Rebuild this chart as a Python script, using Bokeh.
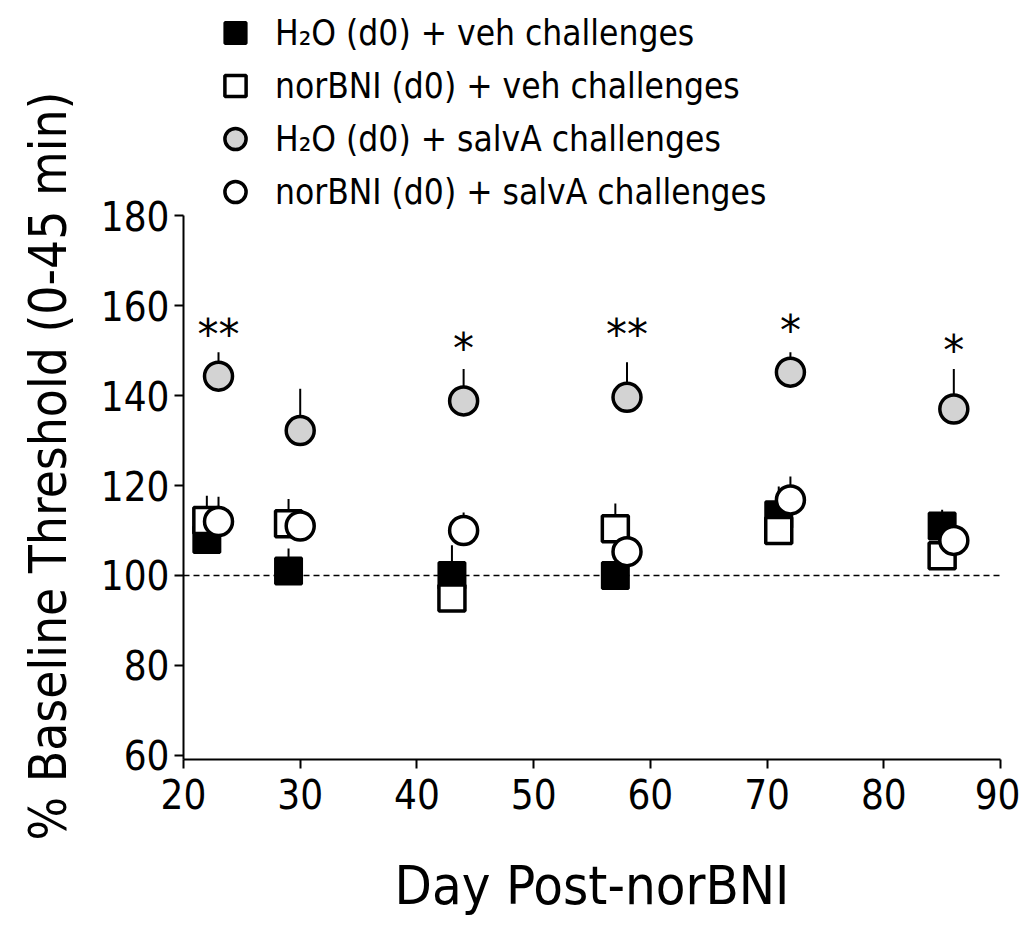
from bokeh.plotting import figure
from bokeh.models import (Range1d, FixedTicker, Span, Legend, LegendItem, Title)
from bokeh.core.properties import value
from bokeh.embed import file_html
from bokeh.resources import INLINE

# ---- data ----
days_veh = [22, 29, 43, 57, 71, 85]
days_salva = [23, 30, 44, 58, 72, 86]

h2o_veh = [108, 101, 100, 100, 113.5, 111]
h2o_veh_sem = [2, 5, 6.7, 2, 6.3, 3.6]

nor_veh = [112.2, 111.5, 95, 110.4, 110, 104.4]
nor_veh_sem = [5.5, 5.5, 2, 5.6, 2, 2]

h2o_salva = [144.3, 132.2, 138.8, 139.6, 145.2, 137]
h2o_salva_sem = [5.3, 9.3, 7.1, 7.8, 4.4, 8.9]

nor_salva = [112, 111, 110, 105.3, 116.8, 107.8]
nor_salva_sem = [5.5, 2, 4, 2, 5.2, 2]

star_days = [23, 44, 58, 72, 86]
star_y = [154, 151, 154, 155, 150.5]
star_text = ["**", "*", "**", "*", "*"]

x_ticks = [20, 30, 40, 50, 60, 70, 80, 90]
y_ticks = [60, 80, 100, 120, 140, 160, 180]

labels = ["H₂O (d0) + veh challenges",
          "norBNI (d0) + veh challenges",
          "H₂O (d0) + salvA challenges",
          "norBNI (d0) + salvA challenges"]
x_title = "Day Post-norBNI"
y_title = "% Baseline Threshold (0-45 min)"

FONT = "DejaVu Sans Condensed, Liberation Sans Narrow, DejaVu Sans, sans-serif"

# frame spans the whole top area so the legend (drawn inside it) is not clipped;
# the y axis line itself is bounded to the data range.
p = figure(width=1020, height=921, output_backend="svg", toolbar_location=None,
           x_range=Range1d(20, 90), y_range=Range1d(59.1, 227.8),
           min_border_left=183, min_border_top=0, min_border_right=20,
           min_border_bottom=162)
p.outline_line_color = None
p.grid.visible = False
p.background_fill_color = "white"

for ax in (p.xaxis[0], p.yaxis[0]):
    ax.axis_line_width = 2
    ax.axis_line_color = "black"
    ax.major_tick_line_width = 2
    ax.major_tick_line_color = "black"
    ax.major_tick_out = 9
    ax.major_tick_in = 0
    ax.minor_tick_out = 0
    ax.minor_tick_in = 0
    ax.major_label_text_font = FONT
    ax.major_label_text_font_size = "40px"
    ax.major_label_text_color = "black"
    ax.axis_label_text_font = FONT
    ax.axis_label_text_font_style = "normal"
    ax.axis_label_text_color = "black"

p.yaxis.bounds = (59.1, 180)
p.xaxis.ticker = FixedTicker(ticks=x_ticks)
p.yaxis.ticker = FixedTicker(ticks=y_ticks)
p.xaxis.axis_label = x_title
p.xaxis.axis_label_text_font_size = "54px"
p.xaxis.major_label_standoff = 10
p.yaxis.major_label_standoff = 5
p.xaxis.axis_label_standoff = 42

ytitle = Title(text=y_title, align="left", offset=-81, vertical_align="top",
               standoff=35, text_font=FONT, text_font_size="51px",
               text_font_style="normal", text_color="black")
p.add_layout(ytitle, "left")

p.add_layout(Span(location=100, dimension="width", line_color="black",
                  line_width=1.5, line_dash="6 4"))

def err(x, y, s):
    p.segment(x0=x, y0=y, x1=x, y1=[a + b for a, b in zip(y, s)],
              line_color="black", line_width=2)

err(days_veh, h2o_veh, h2o_veh_sem)
err(days_veh, nor_veh, nor_veh_sem)
err(days_salva, h2o_salva, h2o_salva_sem)
err(days_salva, nor_salva, nor_salva_sem)

r1 = p.scatter(days_veh, h2o_veh, marker="square", size=26, fill_color="black",
               line_color="black", line_width=3)
r2 = p.scatter(days_veh, nor_veh, marker="square", size=26, fill_color="white",
               line_color="black", line_width=3.5)
r3 = p.scatter(days_salva, h2o_salva, marker="circle", size=28, fill_color="#d3d3d3",
               line_color="black", line_width=3.5)
r4 = p.scatter(days_salva, nor_salva, marker="circle", size=28, fill_color="white",
               line_color="black", line_width=3.5)

p.text(x=star_days, y=star_y, text=star_text, text_font=value("DejaVu Sans"),
       text_font_size="42px", text_align="center", text_baseline="middle",
       text_color="black", y_offset=2)

legend = Legend(items=[LegendItem(label=labels[i], renderers=[r])
                       for i, r in enumerate([r1, r2, r3, r4])],
                location=(24, 541), orientation="vertical")
legend.padding = 0
legend.margin = 0
legend.spacing = 0
legend.glyph_width = 56
legend.glyph_height = 53
legend.label_height = 53
legend.label_standoff = 12
legend.label_text_font = FONT
legend.label_text_font_size = "35px"
legend.label_text_color = "black"
legend.border_line_color = None
legend.background_fill_alpha = 0
p.add_layout(legend, "center")

open("out.html", "w").write(file_html(p, INLINE))
